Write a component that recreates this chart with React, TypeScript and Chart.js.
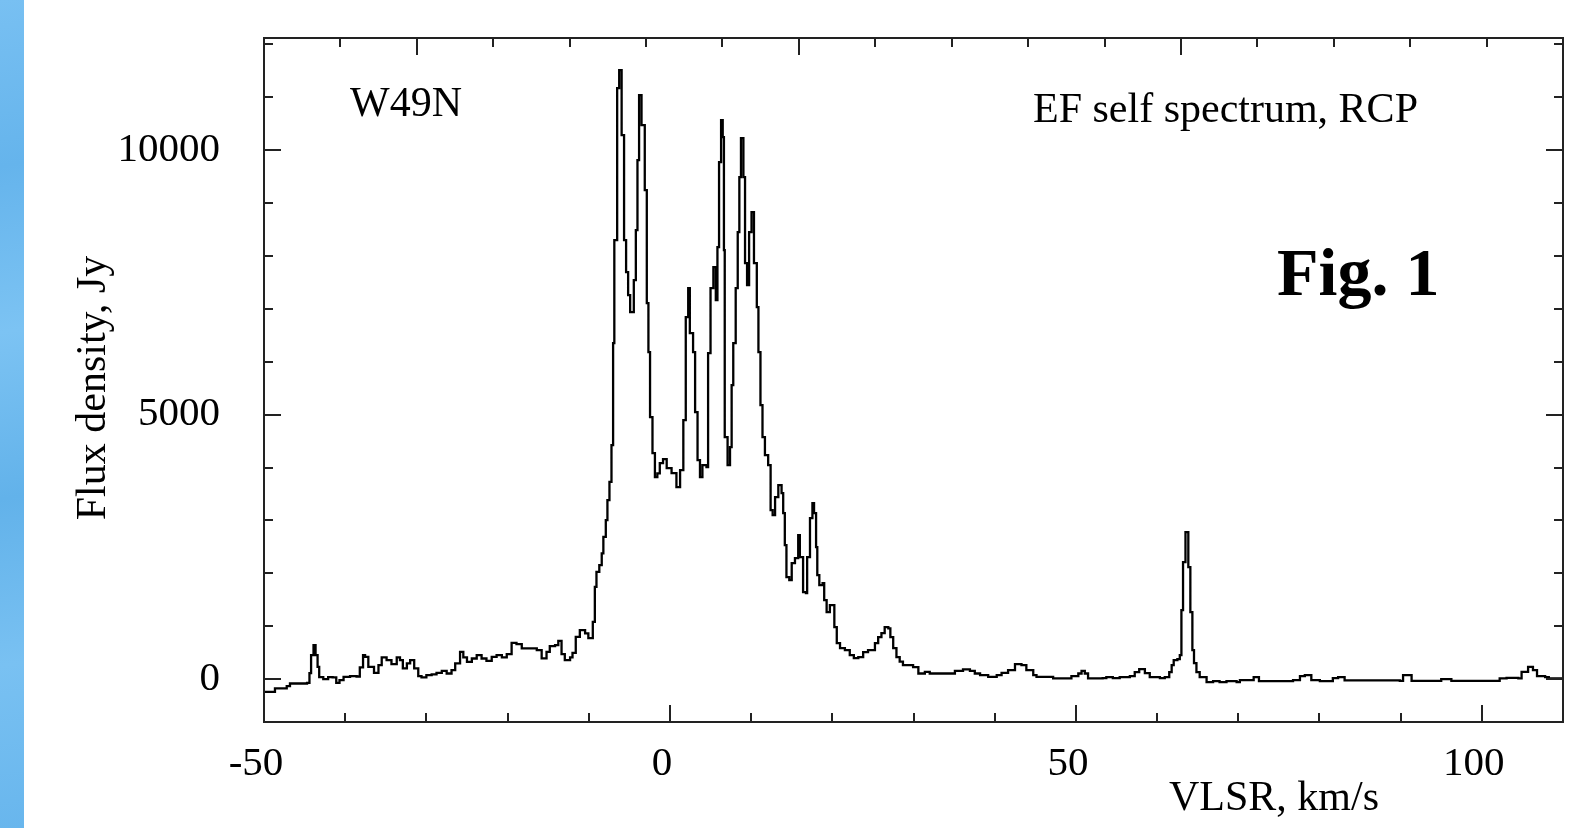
import React, { useEffect, useRef } from "react";
import { Chart, registerables } from "chart.js";

Chart.register(...registerables);

// Velocity (km/s) of each channel edge
const VELOCITY = [
  -50.0, -48.65, -47.2, -46.8, -44.7, -44.4, -44.2, -43.9, -43.65, -43.4,
  -43.2, -42.7, -42.1, -41.55, -41.1, -40.7, -40.2, -39.4, -38.6, -38.2,
  -37.8, -37.55, -37.15, -36.45, -35.9, -35.5, -34.9, -34.3, -33.65, -33.25,
  -32.9, -32.4, -32.0, -31.5, -31.0, -30.6, -30.0, -29.35, -28.75, -28.1,
  -27.5, -26.9, -26.45, -25.85, -25.45, -25.0, -24.4, -23.8, -23.2, -22.6,
  -21.95, -21.35, -20.7, -20.1, -19.5, -18.9, -18.25, -16.85, -16.4, -15.8,
  -15.2, -14.8, -14.15, -13.75, -13.35, -12.95, -12.3, -12.0, -11.6, -11.1,
  -10.45, -10.05, -9.5, -9.25, -9.05, -8.7, -8.4, -8.2, -7.9, -7.7,
  -7.45, -7.2, -7.0, -6.85, -6.5, -6.25, -5.95, -5.65, -5.4, -5.15,
  -4.9, -4.6, -4.45, -4.2, -4.0, -3.8, -3.5, -3.1, -2.85, -2.65,
  -2.45, -2.15, -1.85, -1.55, -1.25, -0.85, -0.4, 0.2, 0.8, 1.25,
  1.65, 1.95, 2.25, 2.45, 2.85, 3.1, 3.4, 3.7, 4.0, 4.5,
  4.7, 5.0, 5.35, 5.65, 5.85, 6.05, 6.3, 6.5, 6.65, 6.75,
  7.1, 7.4, 7.6, 7.8, 8.1, 8.35, 8.55, 8.75, 9.05, 9.25,
  9.5, 9.75, 10.05, 10.35, 10.7, 10.9, 11.15, 11.4, 11.7, 12.1,
  12.4, 12.65, 12.95, 13.35, 13.75, 13.95, 14.15, 14.35, 14.7, 15.0,
  15.4, 15.8, 16.0, 16.4, 16.75, 16.9, 17.25, 17.55, 17.75, 18.0,
  18.15, 18.4, 18.8, 19.0, 19.3, 19.7, 20.1, 20.25, 20.55, 20.95,
  21.55, 22.15, 22.65, 23.2, 23.8, 24.4, 24.85, 25.25, 25.65, 26.05,
  26.45, 26.9, 27.15, 27.5, 27.9, 28.3, 28.7, 29.55, 29.95, 30.6,
  31.4, 32.0, 34.7, 35.1, 36.1, 36.95, 37.55, 38.2, 39.2, 40.25,
  40.85, 41.65, 42.5, 43.3, 43.9, 44.75, 45.15, 47.0, 47.2, 49.25,
  49.45, 50.3, 50.7, 51.1, 51.5, 53.3, 53.75, 54.55, 55.4, 56.65,
  57.25, 57.8, 58.5, 59.1, 60.35, 60.95, 61.5, 61.8, 62.05, 62.5,
  62.8, 63.0, 63.2, 63.5, 63.75, 63.85, 64.1, 64.35, 64.55, 64.85,
  65.25, 66.1, 66.9, 67.7, 68.55, 69.8, 70.2, 71.4, 71.9, 72.55,
  75.5, 76.75, 77.6, 78.2, 79.0, 80.05, 81.65, 82.3, 83.1, 89.9,
  90.3, 90.75, 91.35, 95.0, 96.25, 101.6, 102.2, 103.05, 104.5, 104.9,
  105.7, 106.3, 106.8, 107.4, 107.8, 108.25, 110.0,
];

// Flux density (Jy) for each velocity above
const FLUX = [
  -240, -176, -132, -82, -70, 113, 454, 643, 454, 233,
  38, 0, 38, 32, -70, -19, 44, 57, 50, 221,
  454, 420, 233, 120, 265, 410, 360, 284, 410, 360,
  202, 297, 359, 202, 57, 32, 76, 90, 120, 157,
  107, 170, 297, 516, 410, 327, 390, 454, 390, 346,
  420, 454, 410, 473, 687, 662, 580, 580, 548, 391,
  516, 624, 643, 725, 473, 359, 410, 498, 800, 926,
  864, 775, 1083, 1745, 2029, 2155, 2376, 2690, 3006, 3384,
  3730, 4423, 6352, 8299, 11172, 11512, 10284, 8299, 7694, 7259,
  6938, 6938, 7543, 8488, 9811, 11040, 10473, 9244, 7108, 6181,
  4953, 4272, 3819, 3888, 4083, 4159, 3989, 3894, 3630, 3951,
  4896, 6843, 7391, 6541, 6181, 5047, 4140, 3819, 4045, 4008,
  6163, 7391, 7788, 7164, 8166, 9773, 10567, 10246, 8110, 4575,
  4045, 4386, 5558, 6352, 7391, 8450, 9490, 10227, 9490, 7864,
  7448, 8450, 8828, 7864, 7032, 6181, 5180, 4575, 4234, 4045,
  3195, 3100, 3440, 3667, 3516, 3138, 2533, 1928, 1871, 2193,
  2287, 2722, 2306, 1645, 1626, 2306, 3043, 3327, 3138, 2495,
  1966, 1777, 1815, 1493, 1267, 1399, 1399, 983, 681, 586,
  548, 454, 397, 416, 510, 548, 548, 681, 794, 870,
  983, 960, 794, 586, 416, 330, 265, 265, 227, 107,
  139, 107, 107, 157, 183, 157, 107, 76, 44, 76,
  120, 170, 284, 265, 170, 76, 44, 44, 13, 13,
  57, 107, 157, 107, 13, 19, 38, 19, 38, 57,
  132, 189, 113, 38, 19, 38, 132, 265, 359, 378,
  454, 1304, 2212, 2779, 2779, 2117, 1267, 548, 302, 132,
  38, -57, -38, -57, -38, -57, -19, -19, 38, -38,
  -38, -19, 57, 76, -19, -38, 19, 38, -25, -32,
  76, 76, -32, 0, -32, -32, 13, 25, 13, 138,
  233, 170, 57, 57, 38, 13, 13,
];

const X_TICKS = [-50, 0, 50, 100];
const Y_TICKS = [0, 5000, 10000];
const X_MIN = -50;
const X_MAX = 110;
const Y_MIN = -810;
const Y_MAX = 12120;
// top frame carries its own tick grid: 17 equal divisions, long ticks every 5th from the 3rd
const TOP_DIVISIONS = 17;
const TOP_MAJOR_START = 2;

const SOURCE_LABEL = "W49N";
const SPECTRUM_LABEL = "EF self spectrum, RCP";
const FIGURE_LABEL = "Fig. 1";
const X_TITLE = "VLSR, km/s";
const Y_TITLE = "Flux density, Jy";

const FONT = '"Liberation Serif", "Times New Roman", serif';

const framePlugin = {
  id: "frameAndText",
  afterDraw(chart: any) {
    const { ctx, chartArea, scales } = chart;
    const { left, right, top, bottom } = chartArea;
    const xs = scales.x;
    const ys = scales.y;
    ctx.save();
    ctx.strokeStyle = "#222";
    ctx.lineWidth = 2;
    ctx.strokeRect(left, top, right - left, bottom - top);

    ctx.beginPath();
    for (let v = -50; v <= 110; v += 10) {
      const px = Math.round(xs.getPixelForValue(v));
      const len = v % 50 === 0 ? 17 : 9;
      ctx.moveTo(px, bottom);
      ctx.lineTo(px, bottom - len);
    }
    for (let k = 1; k < TOP_DIVISIONS; k++) {
      const v = X_MIN + (k * (X_MAX - X_MIN)) / TOP_DIVISIONS;
      const px = Math.round(xs.getPixelForValue(v));
      const len = (k - TOP_MAJOR_START) % 5 === 0 ? 17 : 9;
      ctx.moveTo(px, top);
      ctx.lineTo(px, top + len);
    }
    for (let v = 0; v <= 12000; v += 1000) {
      const py = Math.round(ys.getPixelForValue(v));
      const len = v % 5000 === 0 ? 17 : 9;
      ctx.moveTo(left, py);
      ctx.lineTo(left + len, py);
      ctx.moveTo(right, py);
      ctx.lineTo(right - len, py);
    }
    ctx.stroke();

    ctx.fillStyle = "#000";
    ctx.textBaseline = "alphabetic";
    ctx.textAlign = "left";
    ctx.font = `42px ${FONT}`;
    ctx.fillText(SOURCE_LABEL, 350, 116);
    ctx.fillText(SPECTRUM_LABEL, 1033, 122);
    ctx.fillText(X_TITLE, 1169, 810);
    ctx.font = `bold 68px ${FONT}`;
    ctx.fillText(FIGURE_LABEL, 1277, 295);

    ctx.font = `42px ${FONT}`;
    ctx.translate(105, 388);
    ctx.rotate(-Math.PI / 2);
    ctx.textAlign = "center";
    ctx.fillText(Y_TITLE, 0, 0);
    ctx.restore();
  },
};

export default function App() {
  const canvasRef = useRef<HTMLCanvasElement | null>(null);

  useEffect(() => {
    document.body.style.margin = "0";
    const canvas = canvasRef.current;
    if (!canvas) return;
    const chart = new Chart(canvas, {
      type: "line",
      data: {
        datasets: [
          {
            data: VELOCITY.map((v, i) => ({ x: v, y: FLUX[i] })),
            borderColor: "#000",
            borderWidth: 2.3,
            pointRadius: 0,
            stepped: true,
            fill: false,
            tension: 0,
          },
        ],
      },
      options: {
        responsive: false,
        devicePixelRatio: 1,
        animation: false,
        layout: { padding: { left: 0, top: 38, right: 27, bottom: 0 } },
        plugins: { legend: { display: false }, tooltip: { enabled: false } },
        scales: {
          x: {
            type: "linear",
            min: X_MIN,
            max: X_MAX,
            grid: { display: false, drawTicks: false },
            border: { display: false },
            afterBuildTicks: (s: any) => {
              s.ticks = X_TICKS.map((v) => ({ value: v }));
            },
            afterFit: (s: any) => {
              s.height = 106;
              s.paddingLeft = 0;
              s.paddingRight = 0;
            },
            ticks: {
              padding: 18,
              labelOffset: -8,
              maxRotation: 0,
              color: "#000",
              font: { family: FONT, size: 41 },
              callback: (v: any) => String(v),
            },
          },
          y: {
            type: "linear",
            min: Y_MIN,
            max: Y_MAX,
            grid: { display: false, drawTicks: false },
            border: { display: false },
            afterBuildTicks: (s: any) => {
              s.ticks = Y_TICKS.map((v) => ({ value: v }));
            },
            afterFit: (s: any) => {
              s.width = 264;
              s.paddingTop = 0;
              s.paddingBottom = 0;
            },
            ticks: {
              padding: 44,
              color: "#000",
              font: { family: FONT, size: 41 },
              callback: (v: any) => String(v),
            },
          },
        },
      },
      plugins: [framePlugin],
    });
    return () => chart.destroy();
  }, []);

  return (
    <div style={{ position: "relative", width: 1590, height: 828, background: "#fff" }}>
      <canvas ref={canvasRef} width={1590} height={828} style={{ display: "block" }} />
      <div
        style={{
          position: "absolute",
          left: 0,
          top: 0,
          width: 24,
          height: 828,
          background:
            "linear-gradient(170deg, #78c0f2 0%, #65b4ec 20%, #7cc3f3 40%, #62b2ea 60%, #79c1f2 80%, #68b6ed 100%)",
        }}
      />
    </div>
  );
}
